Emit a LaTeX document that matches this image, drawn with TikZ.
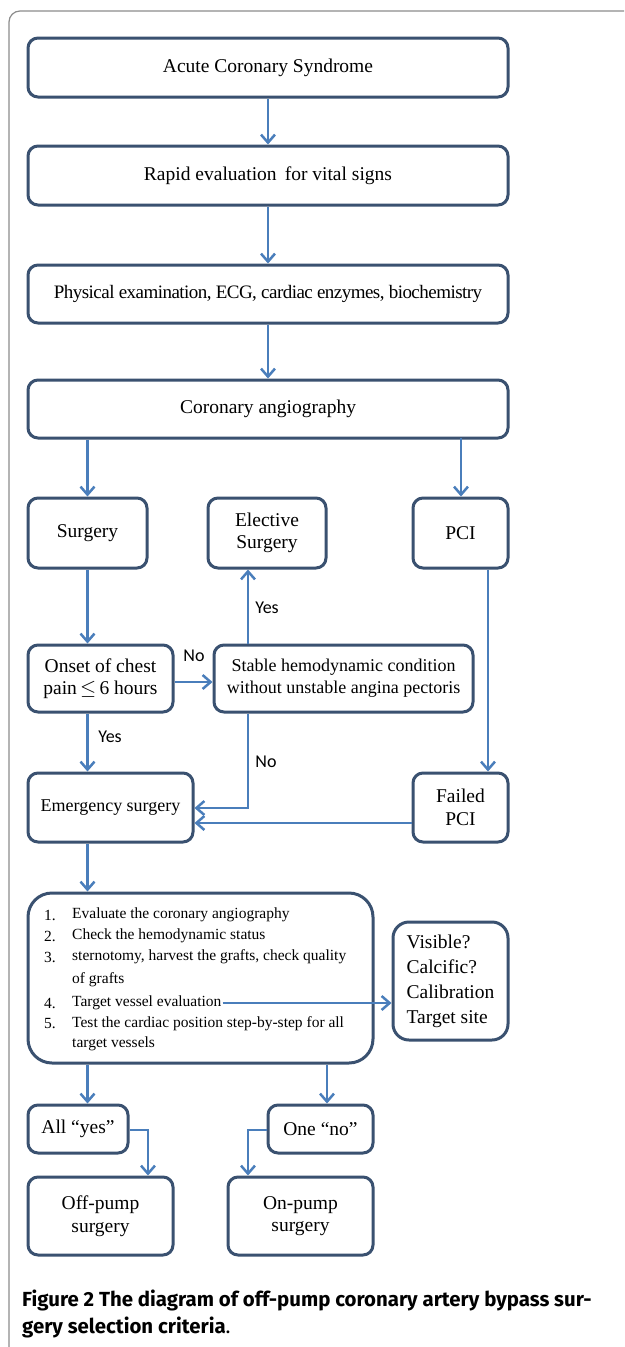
\documentclass[tikz,border=0pt]{standalone}
\usepackage{fontspec}
\usepackage{graphicx}
\setmainfont{Liberation Serif}
\newfontfamily\labfont{Carlito}
\newfontfamily\capfont{Fira Sans}
\newfontfamily\tightfont[LetterSpace=-2.8]{Liberation Serif}
\usetikzlibrary{arrows.meta}
\definecolor{boxc}{HTML}{3A5170}
\definecolor{arrc}{HTML}{4A7EBB}
\definecolor{framec}{HTML}{8C8C8C}
\tikzset{
  fbox/.style={draw=boxc, line width=3pt, rounded corners=10pt, align=center, inner sep=0pt,
    font=\fontsize{19.5}{22.5}\selectfont},
  arr/.style={draw=arrc, line width=2.5pt, -{Straight Barb[length=8pt,width=14pt,line width=2.5pt]}},
  lab/.style={font=\labfont\fontsize{18}{20}\selectfont, inner sep=0pt},
  num/.style={font=\fontsize{15.5}{17}\selectfont, inner sep=0pt, anchor=west},
  capt/.style={font=\capfont\bfseries\fontsize{20.4}{24}\selectfont, inner sep=0pt, anchor=west}
}
\begin{document}
\begin{tikzpicture}[x=1pt,y=-1pt]
\useasboundingbox (0,0) rectangle (624,1347);
\fill[white] (0,0) rectangle (624,1347);
% frame
\draw[framec, line width=1.2pt, rounded corners=11pt] (9,1347) -- (9,11) -- (624,11);

% main column
\node[fbox, minimum width=480, minimum height=59] (acs) at (268,67.5) {Acute Coronary Syndrome};
\node[fbox, minimum width=480, minimum height=59] (rapid) at (268,175.5) {Rapid evaluation\, for vital signs};
\node[fbox, minimum width=480, minimum height=58, font=\tightfont\fontsize{19}{22}\selectfont] (phys) at (268,294) {Physical examination, ECG, cardiac enzymes, biochemistry};
\node[fbox, minimum width=480, minimum height=58] (cor) at (268,409) {Coronary angiography};

\node[fbox, minimum width=119, minimum height=70] (surg) at (87.5,533) {Surgery};
\node[fbox, minimum width=118, minimum height=70] (elec) at (267,533) {Elective\\Surgery};
\node[fbox, minimum width=95, minimum height=70] (pci) at (460.5,533) {PCI};

\node[fbox, minimum width=145, minimum height=67] (onset) at (100.5,678.5) {Onset of chest\\pain\,$\leq$\,6 hours};
\node[fbox, minimum width=259, minimum height=67, font=\fontsize{18}{22}\selectfont] (stable) at (343.5,678.5) {Stable hemodynamic condition\\without unstable angina pectoris};

\node[fbox, minimum width=165, minimum height=69, font=\fontsize{18}{22}\selectfont] (emerg) at (110.5,807.5) {Emergency surgery};
\node[fbox, minimum width=95, minimum height=69] (failed) at (460.5,807.5) {Failed\\PCI};

\node[fbox, minimum width=345, minimum height=170, rounded corners=24pt] (big) at (200.5,978) {};
\node[fbox, minimum width=115, minimum height=118, align=left, rounded corners=16pt, font=\fontsize{19.5}{25}\selectfont] (vis) at (450.5,981) {Visible?\\Calcific?\\Calibration\\Target site};

% list
\node[num] (n1) at (44,915) {1.};
\node[num] (t1) at (72,915) {Evaluate the coronary angiography};
\node[num] (n2) at (44,936) {2.};
\node[num] (t2) at (72,936) {Check the hemodynamic status};
\node[num] (n3) at (44,957) {3.};
\node[num] (t3) at (72,957) {sternotomy, harvest the grafts, check quality};
\node[num] (t3b) at (72,980) {of grafts};
\node[num] (n4) at (44,1003) {4.};
\node[num] (t4) at (72,1003) {Target vessel evaluation};
\node[num] (n5) at (44,1024) {5.};
\node[num] (t5) at (72,1024) {Test the cardiac position step-by-step for all};
\node[num] (t5b) at (72,1044) {target vessels};

\node[fbox, minimum width=100, minimum height=48] (allyes) at (78,1129) {All ``yes''};
\node[fbox, minimum width=105, minimum height=48] (oneno) at (320.5,1129) {One ``no''};
\node[fbox, minimum width=145, minimum height=78] (off) at (100.5,1216) {Off-pump\\surgery};
\node[fbox, minimum width=145, minimum height=78] (on) at (300.5,1216) {On-pump\\surgery};

% labels
\node[lab] (no1) at (194,656) {No};
\node[lab] (yes1) at (267,608) {Yes};
\node[lab] (yes2) at (110,737) {Yes};
\node[lab] (no2) at (266,762) {No};

% connectors
\draw[arr] (acs.south) -- (rapid.north);
\draw[arr] (rapid.south) -- (phys.north);
\draw[arr] (phys.south) -- (cor.north);
\draw[arr] (surg.north |- cor.south) -- (surg.north);
\draw[arr] (461,438) coordinate (cp) -- (cp |- pci.north);
\draw[arr] (surg.south) -- (surg.south |- onset.north);
\draw[arr] (onset.east |- 0,682) coordinate (oe) -- (oe -| stable.west);
\coordinate (sx) at (248,0);
\draw[arr] (sx |- stable.north) -- (sx |- elec.south);
\draw[arr] (surg.south |- onset.south) -- (surg.south |- emerg.north);
\draw[arr] (sx |- stable.south) -- (248,808) -- (emerg.east |- 0,808);
\coordinate (px) at (488,0);
\draw[arr] (px |- pci.south) -- (px |- failed.north);
\draw[arr] (failed.west |- 0,823) coordinate (fw) -- (fw -| emerg.east);
\draw[arr] (surg.south |- emerg.south) -- (surg.south |- big.north);
\draw[arr] (t4.east) ++(1,0) coordinate (t4e) -- (t4e -| vis.west);
\draw[arr] (surg.south |- big.south) -- (surg.south |- allyes.north);
\coordinate (ox) at (327,0);
\draw[arr] (ox |- big.south) -- (ox |- oneno.north);
\draw[arr] (allyes.east |- 0,1130) -- (148,1130) -- (148,0 |- off.north);
\draw[arr] (oneno.west |- 0,1130) -- (248,1130) -- (248,0 |- on.north);

% caption
\node[capt] (cap1) at (22,1300) {Figure 2 The diagram of off-pump coronary artery bypass sur-};
\node[capt] (cap2) at (22,1327) {gery selection criteria\textmd{.}};
\end{tikzpicture}
\end{document}
